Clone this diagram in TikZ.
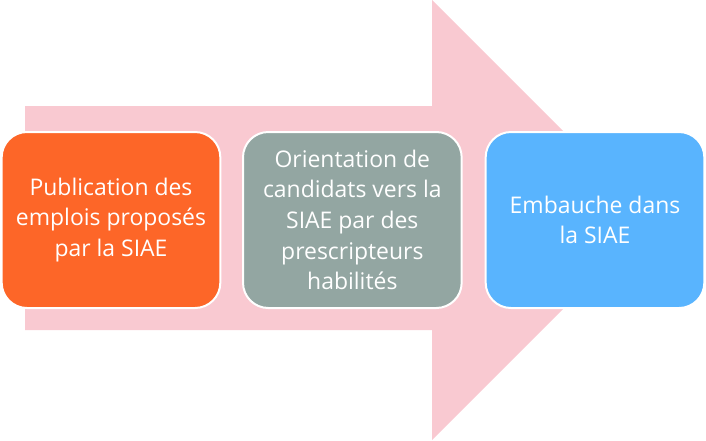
\documentclass[tikz,border=0pt]{standalone}
\usepackage{fontspec}
\setmainfont{Open Sans}
\usepackage{tikz}
\usetikzlibrary{positioning}

\definecolor{arrowpink}{RGB}{249,201,209}
\definecolor{stepone}{RGB}{253,102,40}
\definecolor{steptwo}{RGB}{147,166,162}
\definecolor{stepthree}{RGB}{89,180,254}

\begin{document}
\begin{tikzpicture}[x=0.75pt,y=-0.75pt]
\tikzstyle{etape}=[draw=white,line width=1.5pt,rounded corners=19pt,outer sep=0pt,minimum width=164pt,minimum height=132pt,text=white,align=center,font=\fontsize{17.2}{23}\selectfont]

\useasboundingbox (0,0) rectangle (706,440);

% big arrow behind the steps
\fill[arrowpink] (25,106) -- (432,106) -- (432,0) -- (652,220) -- (432,440) -- (432,330) -- (25,330) -- cycle;

\node (S1) [etape,fill=stepone] at (111,220) {Publication des\\emplois proposés\\par la SIAE};
\node (S2) [etape,fill=steptwo,xshift=181pt] at (S1) {Orientation de\\candidats vers la\\SIAE par des\\prescripteurs\\habilités};
\node (S3) [etape,fill=stepthree,xshift=182pt] at (S2) {Embauche dans\\la SIAE};

\end{tikzpicture}
\end{document}
